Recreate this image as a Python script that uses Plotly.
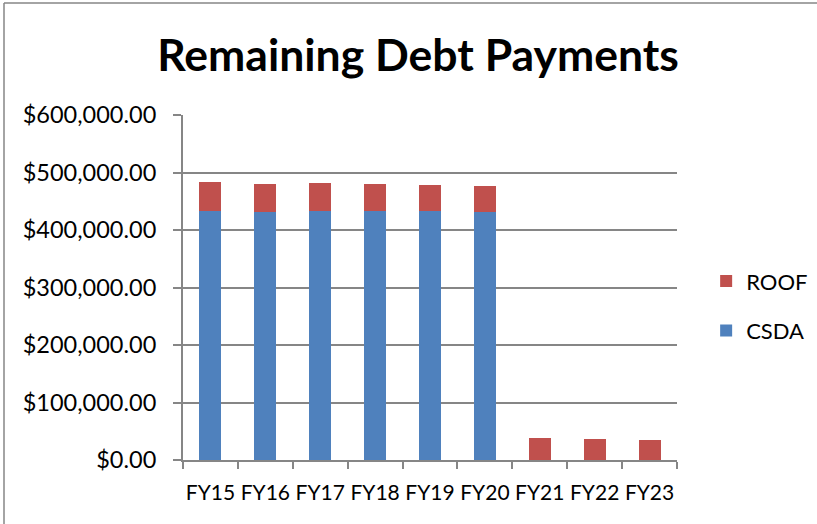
import plotly.graph_objects as go

categories = ["FY15", "FY16", "FY17", "FY18", "FY19", "FY20", "FY21", "FY22", "FY23"]
csda = [432500, 430800, 432500, 432500, 432500, 430800, 0, 0, 0]
roof = [51500, 49200, 48700, 47500, 46300, 45700, 38000, 37000, 35300]
y_ticks = [0, 100000, 200000, 300000, 400000, 500000, 600000]
y_tick_labels = ["$0.00", "$100,000.00", "$200,000.00", "$300,000.00", "$400,000.00", "$500,000.00", "$600,000.00"]

BLUE = "#4F81BD"
RED = "#C0504D"
FONT = "Lato"

fig = go.Figure()
fig.add_trace(go.Bar(x=categories, y=csda, name="CSDA", marker=dict(color=BLUE, line=dict(width=0)),
                     legendgroup="csda", legendrank=2))
fig.add_trace(go.Bar(x=categories, y=roof, name="ROOF", marker=dict(color=RED, line=dict(width=0)),
                     legendgroup="roof", legendrank=1))

L, R, T, B = 183, 677, 115, 460
W, H = 817, 524

fig.update_layout(
    width=W, height=H,
    margin=dict(l=L, r=W - R, t=T, b=H - B, autoexpand=False),
    paper_bgcolor="white", plot_bgcolor="white",
    barmode="stack", bargap=0.6,
    font=dict(family=FONT, color="black", size=22),
    title=dict(text="<b>Remaining Debt Payments</b>", font=dict(family=FONT, size=44.5, color="black"),
               x=418 / W, xanchor="center", xref="container",
               y=1 - 55 / H, yanchor="middle", yref="container"),
    xaxis=dict(type="category", showgrid=False, showline=True, linecolor="#868686", linewidth=2,
               ticks="outside", tickson="boundaries", ticklen=7, tickcolor="#868686", tickwidth=2,
               tickfont=dict(size=21, family=FONT), tickangle=0, ticklabelstandoff=13),
    yaxis=dict(range=[0, 600000], tickvals=y_ticks, ticktext=y_tick_labels,
               showgrid=True, gridcolor="#868686", gridwidth=1.5,
               showline=True, linecolor="#868686", linewidth=2,
               ticks="outside", ticklen=8, tickcolor="#868686", tickwidth=2,
               tickfont=dict(size=23.5, family=FONT), zeroline=False, ticklabelstandoff=12),
    legend=dict(x=1.059, xanchor="left", y=0.446, yanchor="middle",
                traceorder="grouped", tracegroupgap=18,
                font=dict(size=22, family=FONT), bgcolor="rgba(0,0,0,0)"),
    shapes=[
        dict(type="line", xref="paper", yref="paper",
             x0=(4 - L) / (R - L), x1=2.0, y0=(B - 3) / (B - T), y1=(B - 3) / (B - T),
             line=dict(color="#868686", width=1.5)),
        dict(type="line", xref="paper", yref="paper",
             x0=(4 - L) / (R - L), x1=(4 - L) / (R - L), y0=(B - 3) / (B - T), y1=-1.0,
             line=dict(color="#868686", width=1.5)),
    ],
)

fig.write_html("out.html", config={"displayModeBar": False},
               post_script="document.body.style.margin='0';")
